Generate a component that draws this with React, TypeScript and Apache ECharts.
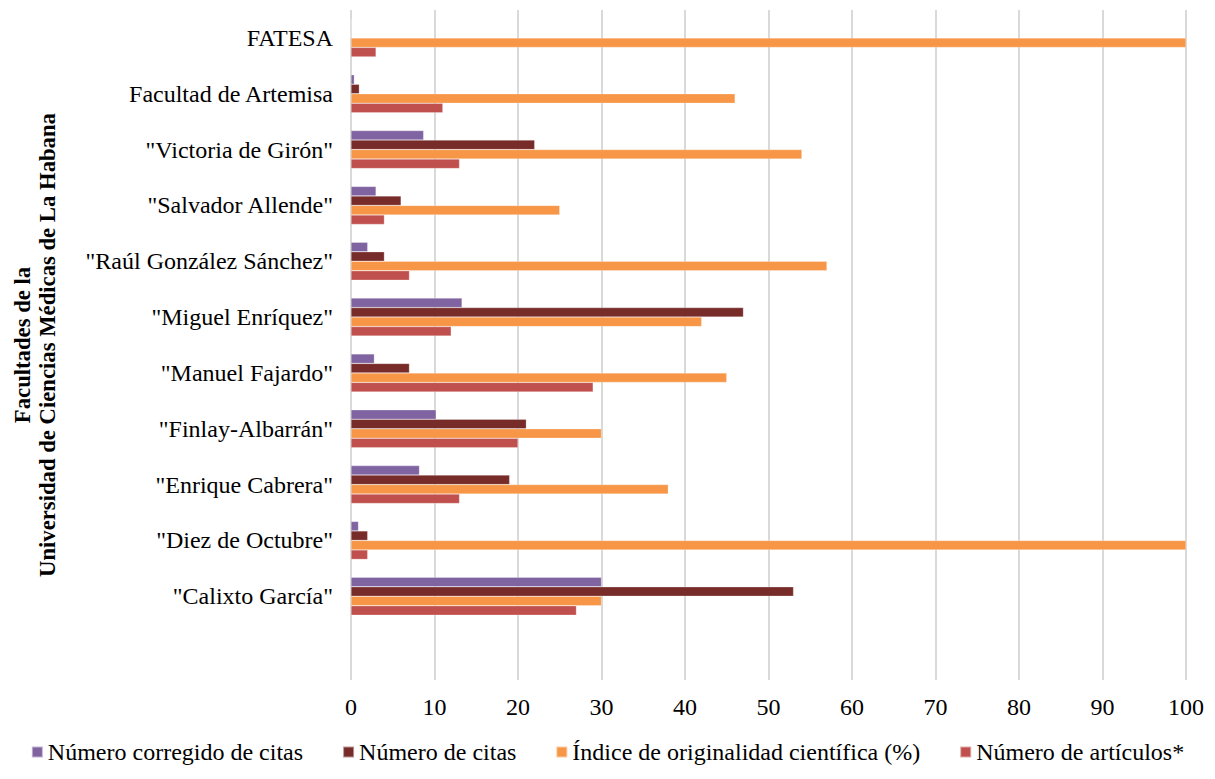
import React, { useEffect, useRef } from "react";
import * as echarts from "echarts";

const categories = [
  "",
  "\"Calixto García\"",
  "\"Diez de Octubre\"",
  "\"Enrique Cabrera\"",
  "\"Finlay-Albarrán\"",
  "\"Manuel Fajardo\"",
  "\"Miguel Enríquez\"",
  "\"Raúl González Sánchez\"",
  "\"Salvador Allende\"",
  "\"Victoria de Girón\"",
  "Facultad de Artemisa",
  "FATESA",
];

const corregidoCitas = [null, 30, 0.9, 8.2, 10.2, 2.8, 13.3, 2, 3, 8.7, 0.4, 0];
const numeroCitas = [null, 53, 2, 19, 21, 7, 47, 4, 6, 22, 1, 0];
const indiceOriginalidad = [null, 30, 100, 38, 30, 45, 42, 57, 25, 54, 46, 100];
const numeroArticulos = [null, 27, 2, 13, 20, 29, 12, 7, 4, 13, 11, 3];

const seriesNames = [
  "Número corregido de citas",
  "Número de citas",
  "Índice de originalidad científica (%)",
  "Número de artículos*",
];
const colors = ["#8064A2", "#772C2A", "#F79646", "#C0504D"];
const xTicks = { min: 0, max: 100, interval: 10 };

export default function App() {
  const ref = useRef<HTMLDivElement>(null);
  useEffect(() => {
    if (!ref.current) return;
    const chart = echarts.init(ref.current, null, { renderer: "svg" });
    const font = "Liberation Serif";
    const datas = [corregidoCitas, numeroCitas, indiceOriginalidad, numeroArticulos];
    chart.setOption({
      animation: false,
      textStyle: { fontFamily: font },
      grid: {
        left: 351,
        right: 29,
        top: 10,
        bottom: 99,
        containLabel: false,
        outerBoundsMode: "none",
      },
      legend: {
        data: seriesNames,
        bottom: 10,
        left: "center",
        icon: "rect",
        itemWidth: 11,
        itemHeight: 11,
        itemGap: 39,
        textStyle: { fontFamily: font, fontSize: 24, color: "#000" },
      },
      xAxis: {
        type: "value",
        min: xTicks.min,
        max: xTicks.max,
        interval: xTicks.interval,
        axisLine: { show: false },
        axisTick: { show: false },
        axisLabel: { fontFamily: font, fontSize: 24, color: "#000", margin: 15 },
        splitLine: { show: true, lineStyle: { color: "#D9D9D9", width: 2 } },
      },
      yAxis: {
        type: "category",
        data: categories,
        axisLine: { show: false },
        axisTick: { show: false },
        axisLabel: { fontFamily: font, fontSize: 24, color: "#000", margin: 18 },
        name: "Facultades de la\nUniversidad de Ciencias Médicas de La Habana",
        nameLocation: "middle",
        nameRotate: 90,
        nameGap: 291,
        nameTextStyle: {
          fontFamily: font,
          fontSize: 22.7,
          fontWeight: "bold",
          color: "#000",
          lineHeight: 25,
          align: "center",
        },
      },
      series: seriesNames.map((name, i) => ({
        name,
        type: "bar",
        data: datas[i],
        barGap: "0%",
        barCategoryGap: "32%",
        itemStyle: { color: colors[i], borderColor: "rgba(255,255,255,0.5)", borderWidth: 0.5 },
      })),
    });
    return () => chart.dispose();
  }, []);
  return <div ref={ref} style={{ width: 1215, height: 779, margin: -8 }} />;
}
